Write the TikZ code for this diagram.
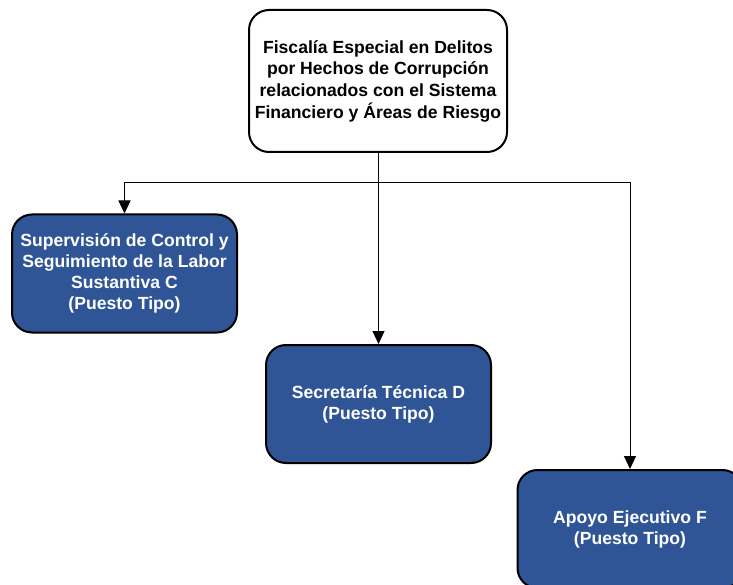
\documentclass[tikz,border=0pt]{standalone}
\usepackage{fontspec}
\setmainfont{Liberation Sans}
\usetikzlibrary{arrows.meta}
\definecolor{boxblue}{HTML}{2F5597}
\tikzset{
  orgbox/.style={draw=black, line width=2pt, rounded corners=20pt, minimum width=225pt, minimum height=118pt, align=center, font=\fontsize{17.6}{21}\selectfont\bfseries, inner sep=2pt},
  bluebox/.style={orgbox, fill=boxblue, text=white},
  topbox/.style={orgbox, fill=white, text=black, minimum width=258pt, minimum height=142pt, font=\fontsize{17.6}{21.7}\selectfont\bfseries},
  conn/.style={draw=black, line width=1pt, -{Triangle[width=12pt,length=13pt]}}
}
\begin{document}
\begin{tikzpicture}[x=1pt,y=-1pt]
\useasboundingbox (0,0) rectangle (733,585);
\clip (0,0) rectangle (733,585);
\node[topbox] (top) at (378,81) {Fiscalía Especial en Delitos\\por Hechos de Corrupción\\relacionados con el Sistema\\Financiero y Áreas de Riesgo};
\node[bluebox] (c) at (124.5,273.5) {Supervisión de Control y\\Seguimiento de la Labor\\Sustantiva C\\(Puesto Tipo)};
\node[bluebox] (d) at (378.5,404) {Secretaría Técnica D\\(Puesto Tipo)};
\node[bluebox] (f) at (630,529) {Apoyo Ejecutivo F\\(Puesto Tipo)};
\coordinate (j) at (378.5,183);
\draw[conn] (top.south -| d.north) -- (d.north);
\draw[conn] (j) -| (c.north);
\draw[conn] (j) -| (f.north);
\end{tikzpicture}
\end{document}
